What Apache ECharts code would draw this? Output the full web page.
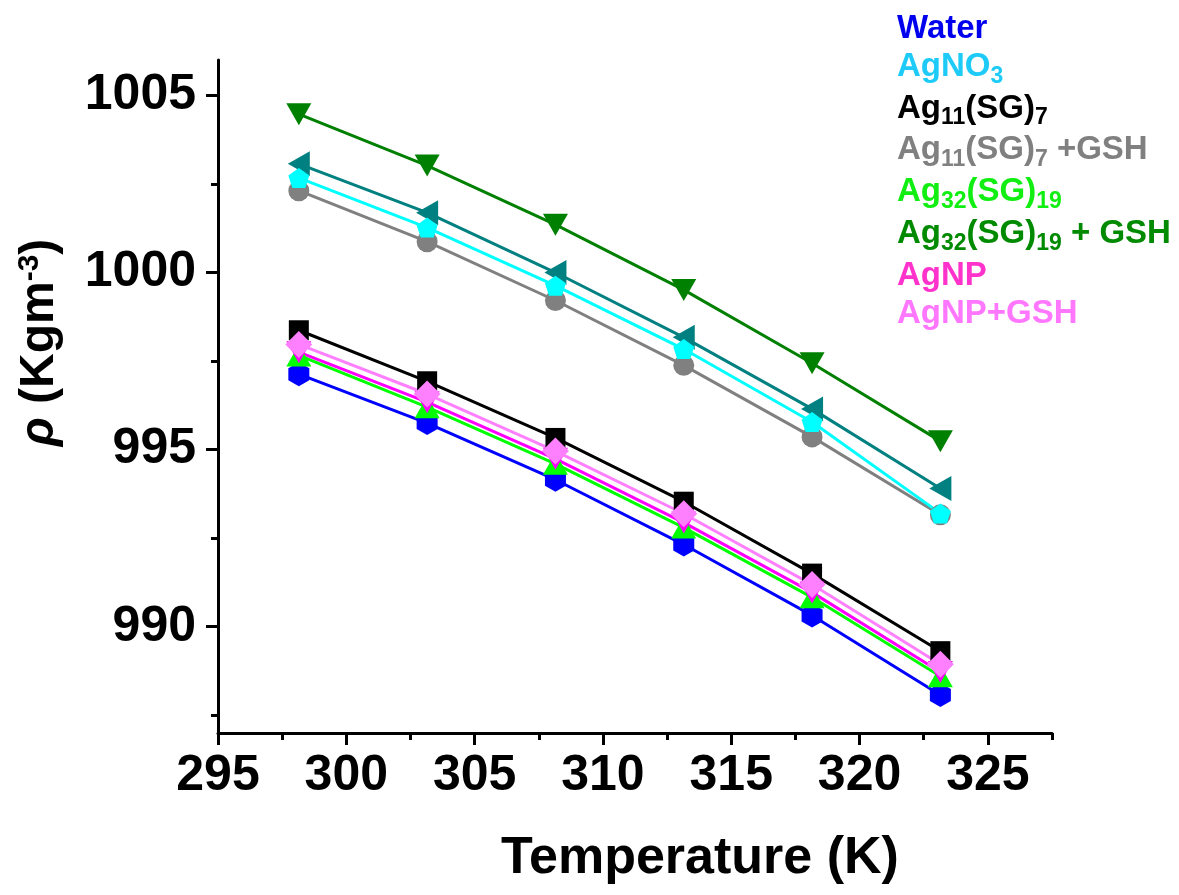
<!DOCTYPE html>
<html>
<head>
<meta charset="utf-8">
<script src="https://cdn.jsdelivr.net/npm/echarts@6/dist/echarts.min.js"></script>
<style>
html,body{margin:0;padding:0;background:#fff;}
#chart{width:1179px;height:895px;}
</style>
</head>
<body>
<div id="chart"></div>
<script>
// ---- data ----
var temperatures = [298.15, 303.15, 308.15, 313.15, 318.15, 323.15];
var water      = [997.13, 995.75, 994.15, 992.32, 990.32, 988.07];
var agno3      = [1002.67, 1001.27, 999.63, 997.84, 995.78, 993.20];
var ag11       = [998.37, 996.93, 995.33, 993.53, 991.50, 989.31];
var ag11Gsh    = [1002.31, 1000.87, 999.21, 997.38, 995.36, 993.16];
var ag32       = [997.66, 996.20, 994.60, 992.80, 990.83, 988.60];
var ag32Gsh    = [1004.47, 1003.02, 1001.35, 999.51, 997.44, 995.24];
var agnp       = [997.75, 996.34, 994.74, 992.94, 990.97, 988.72];
var agnpGsh    = [997.97, 996.57, 994.96, 993.19, 991.19, 988.94];
var unlabelled = [1003.07, 1001.69, 1000.00, 998.17, 996.15, 993.90];
var xTicks = [295, 300, 305, 310, 315, 320, 325];
var xMinorTicks = [295, 297.5, 300, 302.5, 305, 307.5, 310, 312.5, 315, 317.5, 320, 322.5, 325, 327.5];
var yTicks = [990, 995, 1000, 1005];
var yMinorTicks = [987.5, 990, 992.5, 995, 997.5, 1000, 1002.5, 1005];
var legendNames = ['Water', 'AgNO3', 'Ag11(SG)7', 'Ag11(SG)7 +GSH', 'Ag32(SG)19', 'Ag32(SG)19 + GSH', 'AgNP', 'AgNP+GSH'];

function pairs(ys) { return temperatures.map(function (t, i) { return [t, ys[i]]; }); }

var FONT = '"Liberation Sans", Arial, Helvetica, sans-serif';
var hexagon = 'path://M0,-1 L0.866,-0.5 L0.866,0.5 L0,1 L-0.866,0.5 L-0.866,-0.5 Z';
var pentagon = 'path://M0,-1 L0.951,-0.309 L0.588,0.809 L-0.588,0.809 L-0.951,-0.309 Z';

function mkSeries(name, ys, color, symbol, size, rotate) {
  return {
    name: name, type: 'line', data: pairs(ys),
    xAxisIndex: 0, yAxisIndex: 0,
    symbol: symbol, symbolSize: size, symbolRotate: rotate || 0,
    showAllSymbol: true,
    lineStyle: { color: color, width: 3 },
    itemStyle: { color: color, borderWidth: 0 },
    emphasis: { disabled: true }
  };
}

var series = [
  mkSeries('Water', water, '#0000ff', hexagon, [21, 24]),
  mkSeries('Ag11(SG)7', ag11, '#000000', 'rect', 20),
  mkSeries('Ag11(SG)7 +GSH', ag11Gsh, '#808080', 'circle', 21),
  mkSeries('Unlabelled', unlabelled, '#008080', 'triangle', [25, 22], 90),
  mkSeries('AgNO3', agno3, '#00ffff', pentagon, [21, 20]),
  mkSeries('Ag32(SG)19', ag32, '#00ff00', 'triangle', [25, 22]),
  mkSeries('Ag32(SG)19 + GSH', ag32Gsh, '#008000', 'triangle', [25, 22], 180),
  mkSeries('AgNP', agnp, '#ff00ff', 'triangle', [25, 22], 180),
  mkSeries('AgNP+GSH', agnpGsh, '#ff80ff', 'diamond', [27, 27])
];

var legendRich = {};
var legendColors = {
  w: '#0000ee', n: '#1ecbf8', k: '#000000', g: '#808080',
  l: '#11ee11', d: '#008a00', m: '#ff33cc', p: '#ff77ff'
};
Object.keys(legendColors).forEach(function (k) {
  legendRich[k] = { color: legendColors[k], fontFamily: FONT, fontWeight: 'bold', fontSize: 33, lineHeight: 34, height: 34, verticalAlign: 'top' };
  legendRich[k + 's'] = { color: legendColors[k], fontFamily: FONT, fontWeight: 'bold', fontSize: 23, lineHeight: 15, height: 15, verticalAlign: 'top', padding: [19, 0, 0, 0] };
});
var legendFormat = {
  'Water': '{w|Water}',
  'AgNO3': '{n|AgNO}{ns|3}',
  'Ag11(SG)7': '{k|Ag}{ks|11}{k|(SG)}{ks|7}',
  'Ag11(SG)7 +GSH': '{g|Ag}{gs|11}{g|(SG)}{gs|7}{g| +GSH}',
  'Ag32(SG)19': '{l|Ag}{ls|32}{l|(SG)}{ls|19}',
  'Ag32(SG)19 + GSH': '{d|Ag}{ds|32}{d|(SG)}{ds|19}{d| + GSH}',
  'AgNP': '{m|AgNP}',
  'AgNP+GSH': '{p|AgNP+GSH}'
};

var option = {
  animation: false,
  backgroundColor: '#ffffff',
  grid: { left: 218, top: 60, right: 127, bottom: 162 },
  legend: {
    data: legendNames,
    orient: 'vertical',
    left: 887, top: 7,
    icon: 'none', itemWidth: 0, itemHeight: 0, itemGap: 3.8,
    selectedMode: false,
    formatter: function (name) { return legendFormat[name]; },
    textStyle: { fontFamily: FONT, fontWeight: 'bold', fontSize: 33, rich: legendRich }
  },
  xAxis: [
    {
      type: 'value', min: 295, max: 327.5, interval: 2.5,
      name: 'Temperature (K)', nameLocation: 'middle', nameGap: 100,
      nameTextStyle: { fontFamily: FONT, fontWeight: 'bold', fontSize: 52, color: '#000', padding: [0, 0, 0, 130] },
      axisLine: { show: true, onZero: false, lineStyle: { color: '#000', width: 3 } },
      axisTick: { show: true, customValues: xMinorTicks, length: 7, lineStyle: { color: '#000', width: 3 } },
      axisLabel: { customValues: xTicks, margin: 18, fontFamily: FONT, fontWeight: 'bold', fontSize: 50, color: '#000',
                   formatter: function (v) { return String(v); } },
      splitLine: { show: false }
    },
    {
      type: 'value', min: 295, max: 327.5, interval: 2.5, position: 'bottom',
      axisLine: { show: false, onZero: false },
      axisTick: { show: true, customValues: xTicks, length: 12, lineStyle: { color: '#000', width: 3 } },
      axisLabel: { show: false },
      splitLine: { show: false }
    }
  ],
  yAxis: [
    {
      type: 'value', min: 987, max: 1006,
      name: '{i|ρ}{b| (Kgm}{s|-3}{b|)}', nameLocation: 'middle', nameGap: 153, nameRotate: 90,
      nameTextStyle: {
        color: '#000', padding: [0, 0, 0, 108],
        rich: {
          i: { fontFamily: FONT, fontWeight: 'bold', fontStyle: 'italic', fontSize: 48, lineHeight: 50, verticalAlign: 'middle', color: '#000' },
          b: { fontFamily: FONT, fontWeight: 'bold', fontSize: 48, lineHeight: 50, verticalAlign: 'middle', color: '#000' },
          s: { fontFamily: FONT, fontWeight: 'bold', fontSize: 30, lineHeight: 20, verticalAlign: 'top', color: '#000' }
        }
      },
      axisLine: { show: true, onZero: false, lineStyle: { color: '#000', width: 3 } },
      axisTick: { show: true, customValues: yMinorTicks, length: 7, lineStyle: { color: '#000', width: 3 } },
      axisLabel: { customValues: yTicks, margin: 22, fontFamily: FONT, fontWeight: 'bold', fontSize: 50, color: '#000',
                   formatter: function (v) { return String(v); } },
      splitLine: { show: false }
    },
    {
      type: 'value', min: 987, max: 1006, position: 'left',
      axisLine: { show: false, onZero: false },
      axisTick: { show: true, customValues: yTicks, length: 12, lineStyle: { color: '#000', width: 3 } },
      axisLabel: { show: false },
      splitLine: { show: false }
    }
  ],
  series: series
};

var chart = echarts.init(document.getElementById('chart'), null, { renderer: 'canvas' });
chart.setOption(option);
</script>
</body>
</html>
